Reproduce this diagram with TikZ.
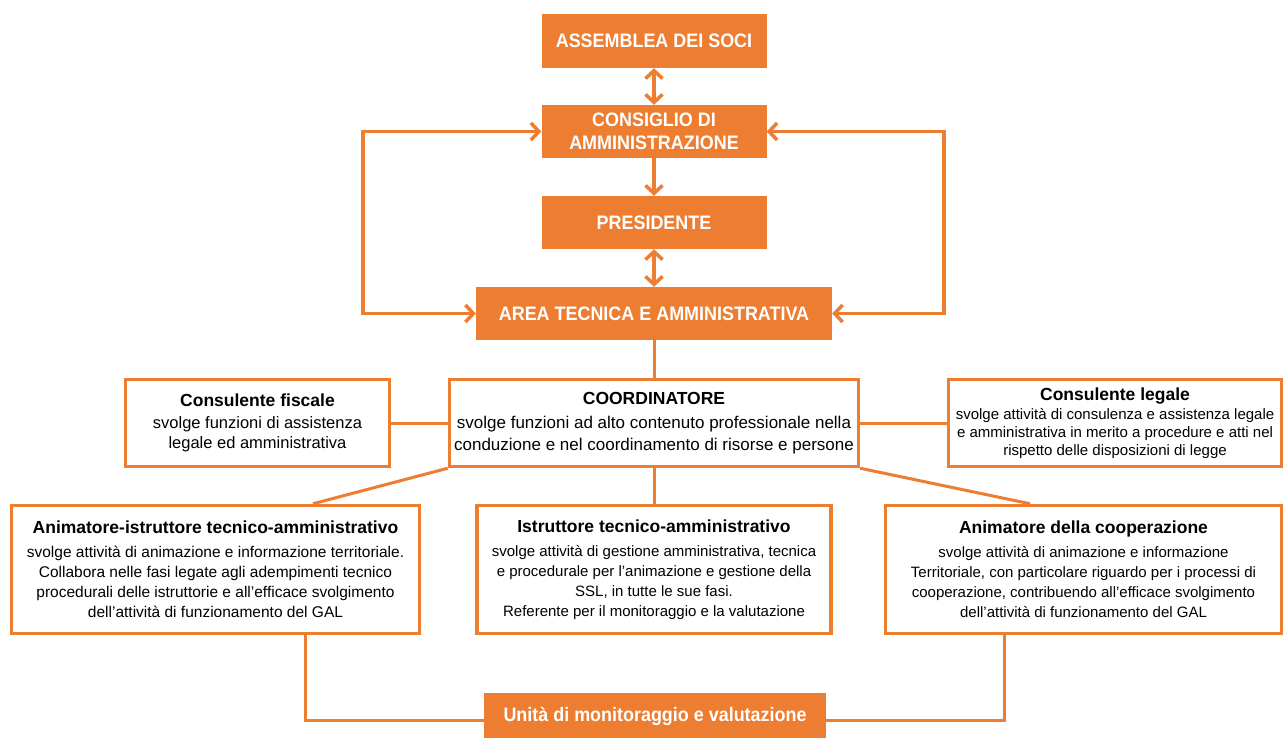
\documentclass[tikz,border=0pt]{standalone}
\usepackage{fontspec}
\setmainfont{Liberation Sans}
\newfontfamily\orfont[FakeStretch=0.92]{Liberation Sans}
\usetikzlibrary{arrows.meta}
\definecolor{orng}{RGB}{237,125,49}
\newcommand\boxtitle[1]{{\fontsize{17.5}{20}\selectfont\bfseries #1}}
\begin{document}
\begin{tikzpicture}[x=1pt,y=-1pt,
  >={Straight Barb[length=8pt,width=17pt]},
  obox/.style={fill=orng, text=white, inner sep=0pt, align=center,
    font=\orfont\bfseries\fontsize{19.5}{23}\selectfont},
  wbox/.style={draw=orng, line width=3.5pt, fill=white, inner sep=0pt, align=center},
  conn/.style={draw=orng, line width=3pt},
  arr/.style={draw=orng, line width=3.5pt}]
\useasboundingbox (0,0) rectangle (1285,738);
% orange boxes
\node[obox, minimum width=225pt, minimum height=54pt] (ass) at (654,41) {ASSEMBLEA DEI SOCI};
\node[obox, minimum width=225pt, minimum height=53pt] (cda) at (654,131.5) {CONSIGLIO DI\\AMMINISTRAZIONE};
\node[obox, minimum width=225pt, minimum height=53pt] (pre) at (654,222.5) {PRESIDENTE};
\node[obox, minimum width=356pt, minimum height=53pt] (area) at (654,313.5) {AREA TECNICA E AMMINISTRATIVA};
\node[obox, minimum width=342pt, minimum height=46pt] (uni) at (655,716) {Unità di monitoraggio e valutazione};
% white boxes
\node[wbox, minimum width=264pt, minimum height=87pt, font=\fontsize{16.5}{20}\selectfont] (fis) at (257.5,423)
  {\boxtitle{Consulente fiscale}\\[2pt]svolge funzioni di assistenza\\legale ed amministrativa};
\node[wbox, minimum width=409pt, minimum height=87pt, font=\fontsize{17}{22}\selectfont] (coo) at (654,423)
  {\boxtitle{COORDINATORE}\\[2pt]svolge funzioni ad alto contenuto professionale nella\\conduzione e nel coordinamento di risorse e persone};
\node[wbox, minimum width=333pt, minimum height=87pt, font=\fontsize{15}{18}\selectfont] (leg) at (1115,423)
  {\boxtitle{Consulente legale}\\[1pt]svolge attività di consulenza e assistenza legale\\e amministrativa in merito a procedure e atti nel\\rispetto delle disposizioni di legge};
\node[wbox, minimum width=408pt, minimum height=128pt, font=\fontsize{15.5}{20}\selectfont] (ani) at (215.5,569.5)
  {\boxtitle{Animatore-istruttore tecnico-amministrativo}\\[4pt]svolge attività di animazione e informazione territoriale.\\Collabora nelle fasi legate agli adempimenti tecnico\\procedurali delle istruttorie e all’efficace svolgimento\\dell’attività di funzionamento del GAL};
\node[wbox, minimum width=354pt, minimum height=128pt, font=\fontsize{15}{20}\selectfont] (ist) at (654,569.5)
  {\boxtitle{Istruttore tecnico-amministrativo}\\[4pt]svolge attività di gestione amministrativa, tecnica\\e procedurale per l’animazione e gestione della\\SSL, in tutte le sue fasi.\\Referente per il monitoraggio e la valutazione};
\node[wbox, minimum width=396pt, minimum height=128pt, font=\fontsize{15}{20}\selectfont] (coop) at (1083.5,569.5)
  {\boxtitle{Animatore della cooperazione}\\[4pt]svolge attività di animazione e informazione\\Territoriale, con particolare riguardo per i processi di\\cooperazione, contribuendo all’efficace svolgimento\\dell’attività di funzionamento del GAL};
% helper coordinates
\coordinate (lx) at (363,0);
\coordinate (rx) at (944,0);
\coordinate (ax) at (313,0);
\coordinate (cx) at (1030,0);
\coordinate (bl) at (305,0);
\coordinate (br) at (1004,0);
\coordinate (hy) at (0,720);
% arrows
\draw[arr,<->] (ass) -- (cda);
\draw[arr,->] (cda) -- (pre);
\draw[arr,<->] (pre) -- (area);
\draw[arr,<->] (cda.west) -- (cda.west -| lx) -- (area.west -| lx) -- (area.west);
\draw[arr,<->] (cda.east) -- (cda.east -| rx) -- (area.east -| rx) -- (area.east);
% connectors
\draw[conn] (area) -- (coo);
\draw[conn] (fis) -- (coo);
\draw[conn] (coo) -- (leg);
\draw[conn] (coo.south west) -- (ani.north -| ax);
\draw[conn] (coo) -- (ist);
\draw[conn] (coo.south east) -- (coop.north -| cx);
\draw[conn] (ani.south -| bl) -- (bl |- hy) -- (uni.west |- hy);
\draw[conn] (coop.south -| br) -- (br |- hy) -- (uni.east |- hy);
\end{tikzpicture}
\end{document}
